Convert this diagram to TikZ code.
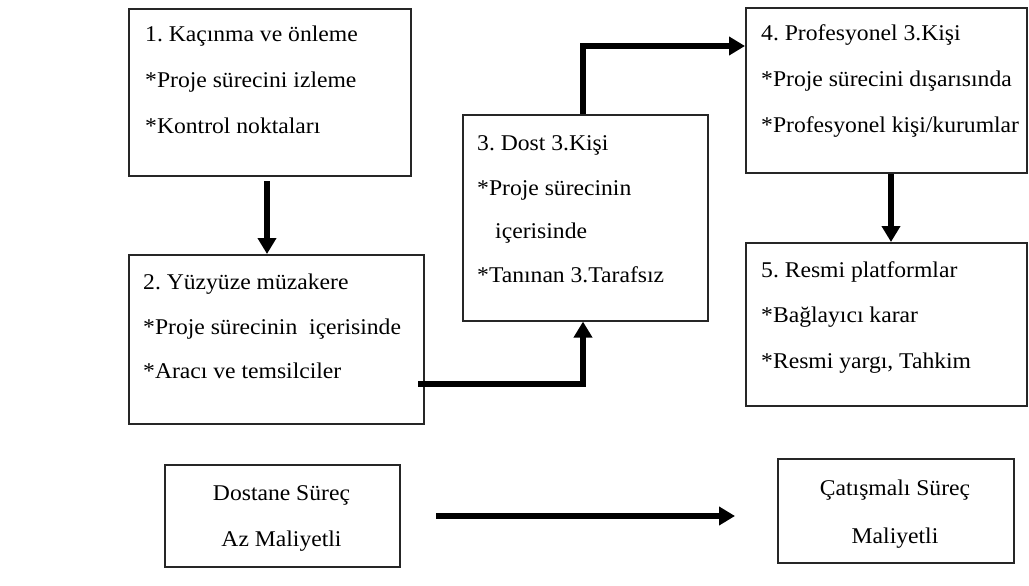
\documentclass[tikz,border=0pt]{standalone}
\usepackage{fontspec}
\setmainfont[FakeStretch=1.05]{Liberation Serif}
\usetikzlibrary{arrows.meta}
\frenchspacing
\begin{document}
\begin{tikzpicture}[x=1pt,y=-1pt,
  box/.style={draw=black!85, line width=1.6pt, rectangle, inner sep=0pt, anchor=north west},
  txt/.style={anchor=base west, inner sep=0pt, font=\fontsize{22.5}{26}\selectfont},
  ctxt/.style={anchor=base, inner sep=0pt, font=\fontsize{22.5}{26}\selectfont},
  arr/.style={line width=5.5pt, -{Triangle[width=18pt,length=16pt]}}]
\useasboundingbox (0,0) rectangle (1029,586);
% boxes
\node[box, minimum width=282pt, minimum height=167pt] (b1) at (128,8) {};
\node[box, minimum width=295pt, minimum height=169pt] (b2) at (128,254) {};
\node[box, minimum width=245pt, minimum height=206pt] (b3) at (462,114) {};
\node[box, minimum width=281pt, minimum height=165pt] (b4) at (745,7) {};
\node[box, minimum width=281pt, minimum height=163pt] (b5) at (745,242) {};
\node[box, minimum width=235pt, minimum height=102pt] (b6) at (164,464) {};
\node[box, minimum width=236pt, minimum height=104pt] (b7) at (777,458) {};
% texts
\node[txt] (t11) at (145,42) {1. Kaçınma ve önleme};
\node[txt] (t12) at (145,88) {*Proje sürecini izleme};
\node[txt] (t13) at (145,133) {*Kontrol noktaları};
\node[txt] (t21) at (143,289) {2. Yüzyüze müzakere};
\node[txt] (t22) at (143,334) {*Proje sürecinin\ \ içerisinde};
\node[txt] (t23) at (143,378) {*Aracı ve temsilciler};
\node[txt] (t31) at (477,150) {3. Dost 3.Kişi};
\node[txt] (t32) at (477,195) {*Proje sürecinin};
\node[txt] (t33) at (495,238) {içerisinde};
\node[txt] (t34) at (477,282) {*Tanınan 3.Tarafsız};
\node[txt] (t41) at (761,41) {4. Profesyonel 3.Kişi};
\node[txt] (t42) at (761,87) {*Proje sürecini dışarısında};
\node[txt] (t43) at (761,132) {*Profesyonel kişi/kurumlar};
\node[txt] (t51) at (761,277) {5. Resmi platformlar};
\node[txt] (t52) at (761,322) {*Bağlayıcı karar};
\node[txt] (t53) at (761,368) {*Resmi yargı, Tahkim};
\node[ctxt] (t61) at (281.5,500) {Dostane Süreç};
\node[ctxt] (t62) at (281.5,546) {Az Maliyetli};
\node[ctxt] (t71) at (895,495) {Çatışmalı Süreç};
\node[ctxt] (t72) at (895,543) {Maliyetli};
% connectors
\coordinate (a1s) at (267,181);
\draw[arr] (a1s) -- (a1s |- b2.north);
\coordinate (a2s) at (418,384);
\coordinate (a2x) at (583,384);
\draw[arr] (a2s) -- (a2x) -- (a2x |- b3.south);
\coordinate (a3x) at (583,114);
\coordinate (a3y) at (583,46);
\draw[arr] (a3x) -- (a3y) -- (a3y -| b4.west);
\coordinate (a4s) at (891,174);
\draw[arr] (a4s) -- (a4s |- b5.north);
\coordinate (a5s) at (436,516);
\coordinate (a5e) at (735,516);
\draw[arr] (a5s) -- (a5e);
\end{tikzpicture}
\end{document}
